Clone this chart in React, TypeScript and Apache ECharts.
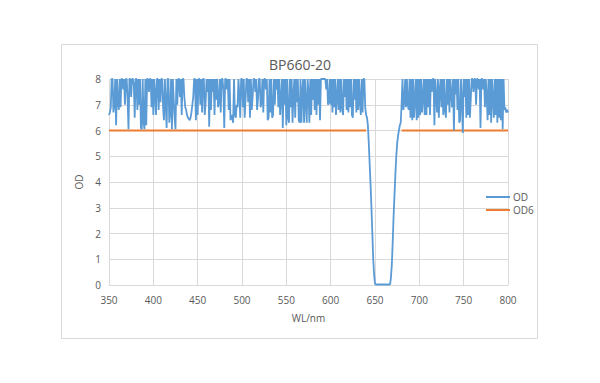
import React, { useEffect, useRef } from "react";
import * as echarts from "echarts";

const titleText = "BP660-20";
const xName = "WL/nm";
const yName = "OD";
const seriesNames = ["OD", "OD6"];

// OD measured 350..640 nm, every 1 nm (8 = instrument ceiling)
const leftStart = 350;
const leftStep = 1;
const odLeft = [
  6.6, 6.7, 6.9, 8, 8, 6.7, 7.0, 8, 6.2, 8,
  7.1, 6.8, 8, 6.9, 8, 8, 7.6, 8, 7.0, 8,
  8, 7.2, 6.05, 8, 8, 7.3, 8, 8, 7.8, 6.5,
  8, 8, 6.8, 8, 7.0, 8, 6.1, 6.05, 8, 6.3,
  6.05, 8, 6.2, 8, 8, 7.5, 8, 8, 6.9, 8,
  6.6, 8, 7.4, 6.6, 8, 8, 6.8, 8, 7.1, 8,
  8, 6.9, 6.4, 8, 7.0, 6.1, 8, 8, 6.3, 6.7,
  8, 6.05, 8, 7.2, 6.5, 6.05, 8, 7.0, 8, 8,
  7.3, 8, 6.6, 8, 8, 7.3, 6.9, 6.8, 6.6, 6.5,
  6.45, 6.4, 6.5, 6.7, 7.0, 7.3, 8, 8, 6.4, 8,
  6.6, 8, 8, 7.0, 8, 6.7, 8, 8, 6.6, 7.1,
  8, 7.5, 8, 6.15, 8, 6.8, 8, 7.5, 8, 6.6,
  8, 7.2, 8, 6.9, 7.1, 8, 6.7, 8, 8, 7.6,
  6.1, 8, 8, 7.6, 8, 6.8, 8, 6.4, 6.6, 6.5,
  6.3, 8, 6.6, 6.5, 7.0, 6.9, 8, 7.4, 6.5, 8,
  8, 6.9, 8, 6.5, 7.2, 8, 8, 7.1, 8, 6.5,
  8, 6.8, 7.3, 8, 8, 7.5, 8, 6.8, 7.2, 8,
  8, 6.9, 7.1, 8, 6.7, 8, 8, 7.6, 8, 6.4,
  6.5, 8, 6.7, 8, 6.5, 6.6, 8, 7.0, 8, 7.6,
  8, 6.9, 8, 6.6, 7.2, 8, 6.1, 8, 7.0, 8,
  6.2, 8, 6.5, 6.3, 8, 6.9, 8, 6.3, 7.4, 8,
  6.5, 8, 7.1, 8, 6.4, 6.3, 8, 6.3, 7.5, 8,
  6.3, 8, 7.1, 6.3, 8, 7.5, 6.3, 8, 6.6, 8,
  7.2, 8, 6.8, 8, 6.6, 8, 7.0, 8, 6.4, 8,
  8, 8, 8, 8, 8, 7.6, 8, 7.0, 7.1, 8,
  7.0, 8, 6.7, 8, 6.9, 8, 6.6, 7.3, 8, 6.8,
  8, 6.7, 8, 6.9, 6.6, 8, 7.3, 8, 6.8, 8,
  6.7, 8, 6.9, 8, 6.6, 6.5, 8, 7.2, 8, 6.7,
  8, 6.8, 8, 7.1, 6.6, 8, 6.7, 8, 8, 6.9,
  6.6,
];

// OD across the pass band 641..679 nm, every 1 nm
const bandStart = 641;
const bandStep = 1;
const odBand = [
  6.5, 6.2, 5.5, 4.7, 3.9, 3.0, 2.0, 1.0, 0.4, 0.05,
  0.02, 0.02, 0.02, 0.02, 0.02, 0.02, 0.02, 0.02, 0.02, 0.02,
  0.02, 0.02, 0.02, 0.02, 0.02, 0.02, 0.02,
  0.3, 0.8, 1.7, 2.7, 3.5, 4.3, 5.0, 5.5, 5.8, 6.0, 6.2, 6.3,
];

// OD measured 680..800 nm, every 1 nm
const rightStart = 680;
const rightStep = 1;
const odRight = [
  7.0, 8, 6.8, 7.1, 8, 6.9, 8, 7.0, 6.8, 8,
  6.5, 8, 6.4, 8, 6.5, 7.2, 8, 6.4, 8, 6.5,
  8, 6.6, 8, 6.7, 7.3, 8, 6.6, 8, 6.6, 8,
  6.9, 8, 6.6, 8, 7.5, 8, 8, 6.2, 8, 7.3,
  6.7, 8, 6.5, 7.6, 8, 6.9, 8, 6.6, 8, 6.8,
  6.5, 8, 7.0, 8, 6.7, 8, 7.4, 6.9, 8, 6.0,
  8, 7.4, 8, 6.8, 8, 6.3, 6.4, 8, 7.2, 5.9,
  8, 7.3, 8, 6.5, 8, 6.6, 8, 6.5, 7.2, 8,
  8, 7.5, 8, 8, 7.0, 8, 8, 7.6, 8, 6.1,
  8, 8, 7.6, 8, 6.9, 8, 7.3, 6.4, 8, 6.6,
  8, 6.3, 8, 7.2, 6.5, 8, 6.6, 8, 6.3, 8,
  6.5, 8, 6.4, 8, 6.05, 8, 6.8, 6.9, 6.7, 6.8,
  6.7,
];

// OD6 reference line
const od6Wl = [350, 640, 660, 680, 800];
const od6Val: (number | null)[] = [6, 6, null, 6, 6];

const xMin = 350;
const xMax = 800;
const xInterval = 50;
const yMin = 0;
const yMax = 8;
const yInterval = 1;

function seg(start: number, step: number, vals: number[]) {
  return vals.map((v, i) => [start + step * i, v]);
}

export default function App() {
  const ref = useRef<HTMLDivElement>(null);
  useEffect(() => {
    if (!ref.current) return;
    const chart = echarts.init(ref.current, null, { renderer: "svg" });
    const font = "Open Sans";
    const odData = [
      ...seg(leftStart, leftStep, odLeft),
      ...seg(bandStart, bandStep, odBand),
      ...seg(rightStart, rightStep, odRight),
    ];
    const od6Data = od6Wl.map((w, i) => [w, od6Val[i]]);
    chart.setOption({
      animation: false,
      backgroundColor: "#ffffff",
      textStyle: { fontFamily: font },
      title: {
        text: titleText,
        left: "center",
        top: 52,
        textStyle: { fontFamily: font, fontSize: 14, fontWeight: "normal", color: "#595959" },
      },
      graphic: [
        {
          type: "rect",
          shape: { x: 61.5, y: 44.5, width: 476, height: 294 },
          style: { fill: "none", stroke: "#d9d9d9", lineWidth: 1 },
          silent: true,
          z: -1,
        },
      ],
      legend: {
        orient: "vertical",
        left: 481,
        top: 187,
        itemWidth: 24,
        itemHeight: 2,
        itemGap: 3,
        icon: "rect",
        textStyle: { fontFamily: font, fontSize: 10, color: "#595959", padding: [0, 0, 0, -2] },
        data: seriesNames,
      },
      grid: { left: 109, right: 92, top: 79, bottom: 98 },
      xAxis: {
        type: "value",
        min: xMin,
        max: xMax,
        interval: xInterval,
        name: xName,
        nameLocation: "middle",
        nameGap: 28,
        nameTextStyle: { fontFamily: font, fontSize: 10, color: "#595959" },
        axisLine: { show: true, lineStyle: { color: "#d9d9d9" } },
        axisTick: { show: false },
        axisLabel: { fontFamily: font, fontSize: 10, color: "#595959", margin: 10 },
        splitLine: { show: true, lineStyle: { color: "#d9d9d9" } },
      },
      yAxis: {
        type: "value",
        min: yMin,
        max: yMax,
        interval: yInterval,
        name: yName,
        nameLocation: "middle",
        nameGap: 12,
        nameRotate: 90,
        nameTextStyle: { fontFamily: font, fontSize: 10, color: "#595959" },
        axisLine: { show: false },
        axisTick: { show: false },
        axisLabel: { fontFamily: font, fontSize: 10, color: "#595959", margin: 8 },
        splitLine: { show: true, lineStyle: { color: "#d9d9d9" } },
      },
      series: [
        {
          name: seriesNames[0],
          type: "line",
          data: odData,
          showSymbol: false,
          symbol: "none",
          clip: true,
          lineStyle: { color: "#5B9BD5", width: 1.8 },
          itemStyle: { color: "#5B9BD5" },
          z: 3,
        },
        {
          name: seriesNames[1],
          type: "line",
          data: od6Data,
          showSymbol: false,
          symbol: "none",
          connectNulls: false,
          lineStyle: { color: "#ED7D31", width: 2 },
          itemStyle: { color: "#ED7D31" },
          z: 2,
        },
      ],
    });
    return () => chart.dispose();
  }, []);
  return (
    <div
      ref={ref}
      style={{ position: "absolute", left: 0, top: 0, width: 600, height: 383 }}
    />
  );
}
